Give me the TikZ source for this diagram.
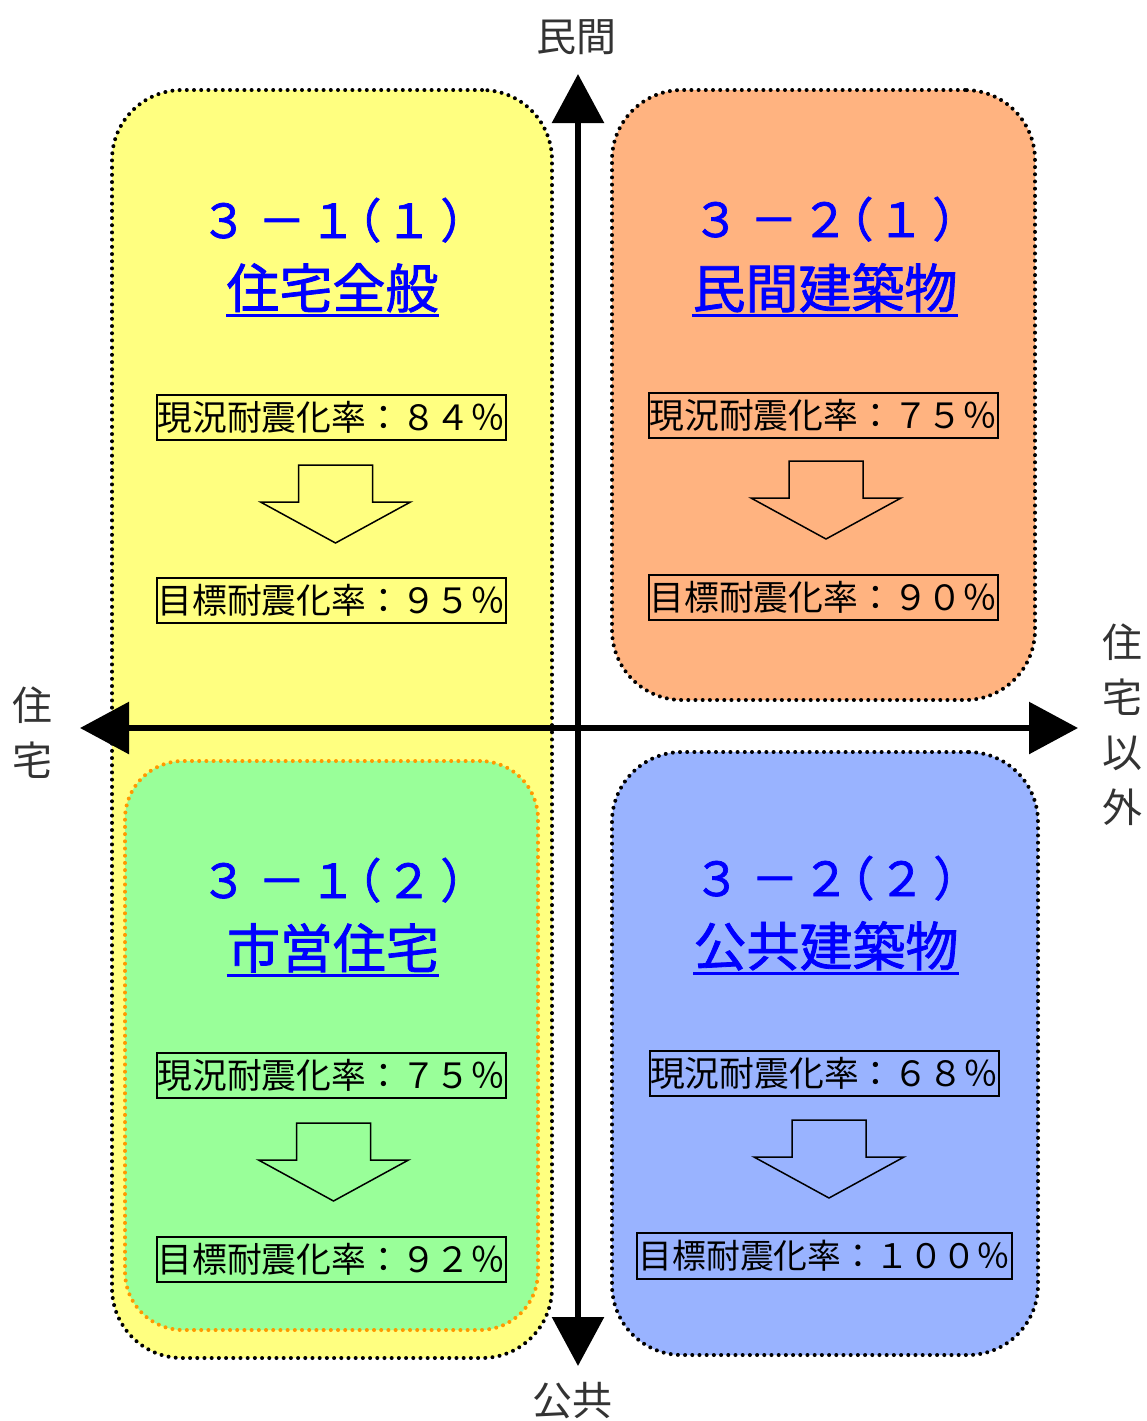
\documentclass[tikz,border=0pt]{standalone}
\usepackage{fontspec}
\setmainfont{Noto Sans CJK JP}
\newfontfamily\heavyjp{Noto Sans CJK JP}[FakeBold=1.5]
\usepackage{xcolor}
\usetikzlibrary{arrows.meta, positioning}

\definecolor{zoneyellow}{HTML}{FFFF80}
\definecolor{zoneorange}{HTML}{FFB380}
\definecolor{zonegreen}{HTML}{99FF99}
\definecolor{zoneblue}{HTML}{99B3FF}
\definecolor{dotorange}{HTML}{FF9900}
\definecolor{axisgray}{HTML}{333333}
\definecolor{titleblue}{HTML}{0000FF}

% section number such as 3-1(1), spaced like the original
\newcommand\secnum[3]{#1\kern5.5pt－\kern2pt#2\kern-11pt（\kern2pt#3\kern4pt）}

\begin{document}
\begin{tikzpicture}[
  x=0.5pt, y=-0.5pt,
  every node/.style={align=center, inner sep=0pt},
  zone/.style={draw, rounded corners=35pt, line width=2pt, dash pattern=on 0pt off 3.6pt, line cap=round},
  ratebox/.style={draw, line width=1pt, minimum width=174.5pt, minimum height=22.5pt, font=\fontsize{17.4}{20}\selectfont},
  numtitle/.style={anchor=base west, text=titleblue, font=\heavyjp\fontsize{23.5}{26}\selectfont},
  nametitle/.style={anchor=base, text=titleblue, font=\heavyjp\fontsize{26.5}{30}\selectfont},
  uline/.style={titleblue, line width=1.5pt},
  blockarrow/.style={draw=black, line width=0.75pt, line join=miter},
  axis/.style={line width=3pt, {Triangle[length=24.5pt, width=25.5pt]}-{Triangle[length=24.5pt, width=25.5pt]}},
  axislabel/.style={text=axisgray, font=\fontsize{20}{27.5}\selectfont},
]
\useasboundingbox (0,0) rectangle (1147,1421);

% quadrants
\node[zone, fill=zoneyellow, minimum width=220pt, minimum height=634pt] (housing) at (332,724) {};
\node[zone, draw=dotorange, fill=zonegreen, rounded corners=29pt, minimum width=206.5pt, minimum height=284.5pt] (municipal) at (331.5,1045.5) {};
\node[zone, fill=zoneorange, minimum width=211.5pt, minimum height=305pt] (privbldg) at (823.5,395) {};
\node[zone, fill=zoneblue, minimum width=213pt, minimum height=301.5pt] (pubbldg) at (825,1053.5) {};

% 3-1(1)
\node[numtitle] (housingnum) at (200,238) {\secnum{３}{１}{１}};
\node[nametitle] (housingname) at (332.5,308) {住宅全般};
\node[ratebox] (housingnow) at (331.5,417) {現況耐震化率：８４％};
\node[ratebox] (housinggoal) at (331.5,600) {目標耐震化率：９５％};
\coordinate (housingarr) at (335.5,465);

% 3-2(1)
\node[numtitle] (privnum) at (692,237) {\secnum{３}{２}{１}};
\node[nametitle] (privname) at (825,308) {民間建築物};
\node[ratebox] (privnow) at (823.5,415) {現況耐震化率：７５％};
\node[ratebox] (privgoal) at (823.5,597.5) {目標耐震化率：９０％};
\coordinate (privarr) at (826,461);

% 3-1(2)
\node[numtitle] (municipalnum) at (200,898) {\secnum{３}{１}{２}};
\node[nametitle] (municipalname) at (333,968) {市営住宅};
\node[ratebox] (municipalnow) at (331.5,1075) {現況耐震化率：７５％};
\node[ratebox] (municipalgoal) at (331.5,1259.5) {目標耐震化率：９２％};
\coordinate (municipalarr) at (333.5,1123);

% 3-2(2)
\node[numtitle] (pubnum) at (693,896) {\secnum{３}{２}{２}};
\node[nametitle] (pubname) at (826,966) {公共建築物};
\node[ratebox] (pubnow) at (824,1073) {現況耐震化率：６８％};
\node[ratebox, minimum width=187.5pt, minimum height=23pt, font=\fontsize{16.9}{20}\selectfont] (pubgoal) at (824.5,1255.5) {目標耐震化率：１００％};
\coordinate (pubarr) at (829,1120);

\foreach \n in {housingname, privname, municipalname, pubname}
  \draw[uline] ([yshift=-3.5pt]\n.base west) -- ([yshift=-3.5pt]\n.base east);

\foreach \a in {housingarr, privarr, municipalarr, pubarr}
  \draw[blockarrow] (\a) ++(-37,0) -- ++(0,37) -- ++(-38,0) -- ++(75,41) -- ++(75,-41) -- ++(-38,0) -- ++(0,-37) -- cycle;

% axes
\coordinate (ntip) at (578,74);
\coordinate (stip) at (578,1366);
\coordinate (wtip) at (80,728);
\coordinate (etip) at (1078,728);
\draw[axis] (stip) -- (ntip);
\draw[axis] (wtip) -- (etip);

\node[axislabel] (privlabel) at (576,37) {民間};
\node[axislabel] (publabel) at (572,1401) {公共};
\node[axislabel] (houselabel) at (32,732.5) {住\\宅};
\node[axislabel] (otherlabel) at (1122,724.5) {住\\宅\\以\\外};

\end{tikzpicture}
\end{document}
